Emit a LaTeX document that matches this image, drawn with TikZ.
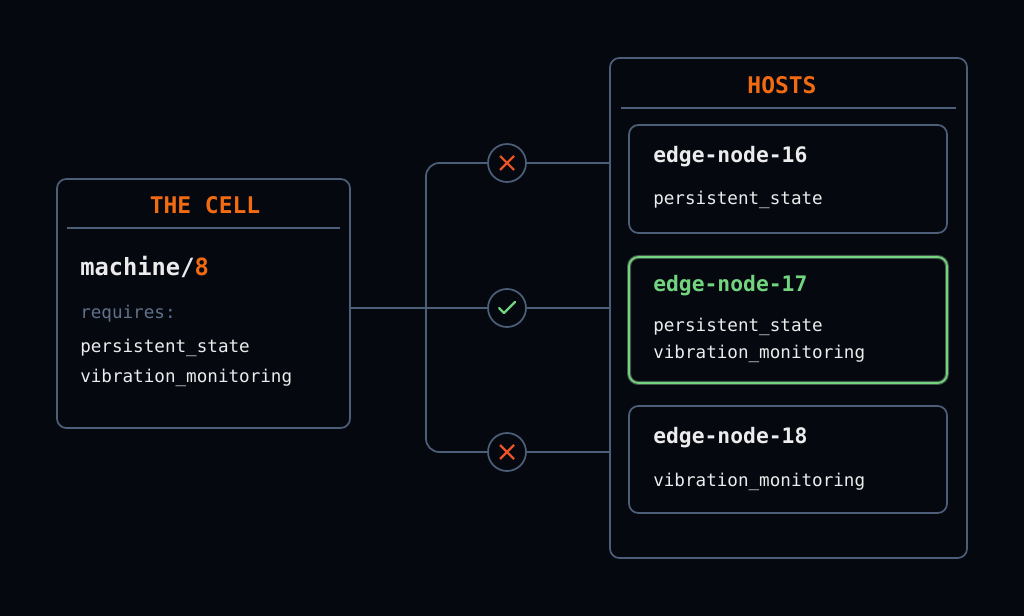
\documentclass[tikz,border=0pt]{standalone}
\usepackage{fontspec}
\setmonofont{DejaVu Sans Mono}
\usetikzlibrary{positioning}
\definecolor{bgc}{HTML}{05080F}
\definecolor{edgec}{HTML}{4C5E78}
\definecolor{orangec}{HTML}{F26B12}
\definecolor{greenc}{HTML}{72D47E}
\definecolor{redc}{HTML}{EC5428}
\definecolor{mutedc}{HTML}{5F718B}
\definecolor{textc}{HTML}{ECECEC}
\tikzset{
  panel/.style = {draw=edgec, line width=1.3pt, rounded corners=7pt},
  title/.style = {font=\ttfamily\bfseries\fontsize{17.2}{20}\selectfont, text=orangec},
  hname/.style = {anchor=west, font=\ttfamily\bfseries\fontsize{16}{19}\selectfont, text=textc, inner sep=0pt},
  attr/.style = {anchor=west, font=\ttfamily\fontsize{13.2}{16}\selectfont, text=textc, inner sep=0pt},
  wire/.style = {draw=edgec, line width=1.3pt},
  gate/.style = {circle, draw=edgec, line width=1.3pt, fill=bgc, minimum size=28.5pt, inner sep=0pt}
}
\begin{document}
\begin{tikzpicture}[x=0.75pt, y=-0.75pt]
  \fill[bgc] (0,0) rectangle (1024,616);
  \useasboundingbox (0,0) rectangle (1024,616);

  % the cell
  \draw[panel] (57,179) rectangle (350,428);
  \coordinate (cellout) at (350,308);
  \node[title] (celltitle) at (205,205) {THE CELL};
  \draw[edgec, line width=1pt] (67,228) -- (340,228);
  \node[hname, font=\ttfamily\bfseries\fontsize{17.8}{20}\selectfont] (machine) at (80,267) {machine/\textcolor{orangec}{8}};
  \node[attr, text=mutedc] (req) at (80,314) {requires:};
  \node[attr] (reqa) at (80,348) {persistent\_state};
  \node[attr] (reqb) at (80,378) {vibration\_monitoring};

  % hosts
  \draw[panel] (610,58) rectangle (967,558);
  \node[title] (hosttitle) at (782,85) {HOSTS};
  \draw[edgec, line width=1pt] (621,108) -- (956,108);

  \draw[panel] (629,125) rectangle (947,233);
  \node[hname] (hsixteen) at (653,157) {edge-node-16};
  \node[attr] (hsixteena) at (653,200) {persistent\_state};

  \draw[panel, draw=greenc!55, line width=3pt, opacity=0.35] (629,257) rectangle (947,383);
  \draw[panel, draw=greenc] (629,257) rectangle (947,383);
  \node[hname, text=greenc] (hseventeen) at (653,286) {edge-node-17};
  \node[attr] (hseventeena) at (653,327) {persistent\_state};
  \node[attr] (hseventeenb) at (653,354) {vibration\_monitoring};

  \draw[panel] (629,406) rectangle (947,513);
  \node[hname] (heighteen) at (653,438) {edge-node-18};
  \node[attr] (heighteena) at (653,482) {vibration\_monitoring};

  % routing
  \coordinate (intop) at (610,163);
  \coordinate (inmid) at (610,308);
  \coordinate (inbot) at (610,452);
  \draw[wire] (cellout) -- (inmid);
  \draw[wire, rounded corners=10pt] (intop) -- (426,163) -- (426,452) -- (inbot);
  \node[gate] (gtop) at (507,163) {};
  \node[gate] (gmid) at (507,308) {};
  \node[gate] (gbot) at (507,452) {};
  \foreach \g in {gtop,gbot}
    \draw[redc, line width=1.6pt] ([shift={(-7,-7)}]\g.center) -- ([shift={(7,7)}]\g.center)
      ([shift={(-7,7)}]\g.center) -- ([shift={(7,-7)}]\g.center);
  \draw[greenc, line width=1.6pt, line cap=round, line join=round]
    ([shift={(-8,0)}]gmid.center) -- ([shift={(-3,5)}]gmid.center) -- ([shift={(8,-6)}]gmid.center);
\end{tikzpicture}
\end{document}
